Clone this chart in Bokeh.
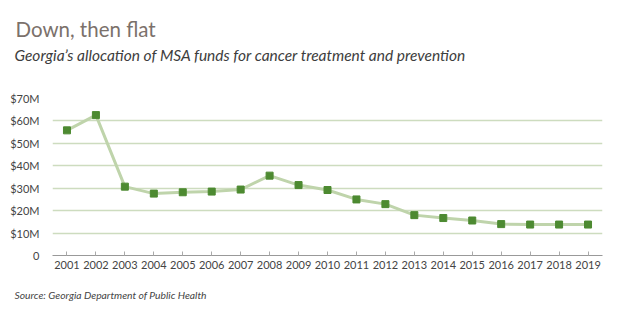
from bokeh.plotting import figure
from bokeh.models import FixedTicker, Title, Range1d, ColumnDataSource
from bokeh.embed import file_html
from bokeh.resources import INLINE

years = list(range(2001, 2020))
funds_m = [55.8, 62.6, 30.7, 27.6, 28.2, 28.5, 29.4, 35.6, 31.4, 29.2,
           25.0, 22.9, 18.0, 16.7, 15.6, 14.0, 13.8, 13.8, 13.8]
y_ticks = [0, 10, 20, 30, 40, 50, 60, 70]
y_tick_labels = ["0", "$10M", "$20M", "$30M", "$40M", "$50M", "$60M", "$70M"]

FONT = "Lato"

p = figure(width=620, height=321, output_backend="svg", toolbar_location=None,
           x_range=Range1d(2000.5, 2019.5), y_range=Range1d(0, 70),
           min_border_left=52, min_border_right=18, min_border_top=98, min_border_bottom=66)
p.outline_line_color = None
p.background_fill_color = "white"
p.border_fill_color = "white"

src = ColumnDataSource(dict(x=years, y=funds_m))
p.line("x", "y", source=src, line_color="#bfd4ab", line_width=3)
p.scatter("x", "y", source=src, marker="square", size=7, fill_color="#4d8a31", line_color="#4d8a31")

p.xgrid.grid_line_color = None
p.ygrid.grid_line_color = "#cddcbf"
p.ygrid.grid_line_width = 1.5
p.ygrid.ticker = FixedTicker(ticks=y_ticks[1:])

p.yaxis.ticker = FixedTicker(ticks=y_ticks)
p.yaxis.major_label_overrides = {t: l for t, l in zip(y_ticks, y_tick_labels)}
p.yaxis.axis_line_color = None
p.yaxis.major_tick_line_color = None
p.yaxis.minor_tick_line_color = None
p.yaxis.major_label_text_font = FONT
p.yaxis.major_label_text_font_size = "11px"
p.yaxis.major_label_text_color = "#444444"
p.yaxis.major_label_standoff = 7

p.xaxis.ticker = FixedTicker(ticks=years)
p.xaxis.major_label_overrides = {y: str(y) for y in years}
p.xaxis.axis_line_color = "#999999"
p.xaxis.major_tick_line_color = "#aaaaaa"
p.xaxis.major_tick_in = 4
p.xaxis.major_tick_out = 0
p.xaxis.minor_tick_line_color = None
p.xaxis.major_label_text_font = FONT
p.xaxis.major_label_text_font_size = "11px"
p.xaxis.major_label_text_color = "#444444"
p.xaxis.major_label_standoff = 5

spacer = Title(text=" ", text_font=FONT, text_font_size="1px", standoff=31)
subtitle = Title(text="Georgia\u2019s allocation of MSA funds for cancer treatment and prevention",
                 text_font=FONT, text_font_size="15.5px", text_font_style="italic",
                 text_color="#3d3d3d", align="left", offset=-38, standoff=2)
title = Title(text="Down, then flat", text_font=FONT, text_font_size="20.5px",
              text_font_style="normal", text_color="#7b716b", align="left", offset=-37, standoff=4)
source = Title(text="Source: Georgia Department of Public Health", text_font=FONT,
               text_font_size="10.3px", text_font_style="italic", text_color="#444444",
               align="left", offset=-38, standoff=30)
p.add_layout(spacer, "above")
p.add_layout(subtitle, "above")
p.add_layout(title, "above")
p.add_layout(source, "below")

open("out.html", "w").write(file_html(p, INLINE))
